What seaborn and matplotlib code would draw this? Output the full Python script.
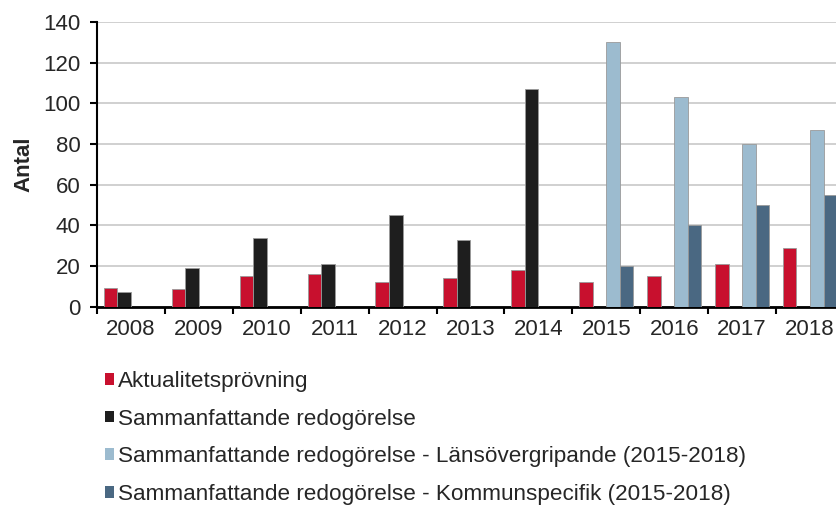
import matplotlib
matplotlib.use("Agg")
import matplotlib.pyplot as plt
from matplotlib.patches import Patch
import seaborn as sns
import numpy as np
import pandas as pd

# data
years = ["2008", "2009", "2010", "2011", "2012", "2013", "2014", "2015", "2016", "2017", "2018"]
aktualitet = [9, 8.5, 15, 16, 12, 14, 18, 12, 15, 21, 29]
sammanf = [7, 19, 34, 21, 45, 33, 107, np.nan, np.nan, np.nan, np.nan]
lans = [np.nan] * 7 + [130, 103, 80, 87]
kommun = [np.nan] * 7 + [20, 40, 50, 55]

series = [
    "Aktualitetsprövning",
    "Sammanfattande redogörelse",
    "Sammanfattande redogörelse - Länsövergripande (2015-2018)",
    "Sammanfattande redogörelse - Kommunspecifik (2015-2018)",
]
colors = ["#C8102E", "#1E1E1E", "#9CBBCF", "#4A6882"]

rows = []
for name, vals in zip(series, [aktualitet, sammanf, lans, kommun]):
    for y, v in zip(years, vals):
        rows.append({"year": y, "serie": name, "antal": v})
df = pd.DataFrame(rows)

sns.set_theme(style="white")
plt.rcParams["font.family"] = ["Liberation Sans", "DejaVu Sans"]

fig = plt.figure(figsize=(8.36, 5.09), dpi=100)
ax = fig.add_axes([97 / 836, 202.3 / 509, 747 / 836, 284.7 / 509])

sns.barplot(data=df, x="year", y="antal", hue="serie", hue_order=series,
            palette=colors, saturation=1, width=0.8, gap=0, legend=False,
            edgecolor="#9a9a9a", linewidth=0.6, ax=ax, zorder=3)

ax.set_xlim(-0.5, len(years) - 0.5)
ax.set_ylim(0, 140)
ax.set_yticks(range(0, 141, 20))
ax.yaxis.grid(True, color="#c8c8c8", linewidth=1.2, zorder=0)
ax.set_axisbelow(True)

for s in ["top", "right"]:
    ax.spines[s].set_visible(False)
ax.spines["left"].set_color("black")
ax.spines["left"].set_linewidth(1.5)
ax.spines["bottom"].set_color("black")
ax.spines["bottom"].set_linewidth(2)

# tick marks between categories, labels in the middle
ax.set_xticks(np.arange(len(years)))
ax.set_xticklabels(years)
ax.set_xticks(np.arange(-0.5, len(years), 1), minor=True)
ax.tick_params(axis="x", which="major", length=0, pad=9, labelsize=16)
ax.tick_params(axis="x", which="minor", length=5, width=1.5, color="black",
               direction="out", bottom=True)
ax.tick_params(axis="y", length=5, width=1.5, color="black", direction="out",
               left=True, pad=7, labelsize=16)

ax.set_xlabel("")
ax.set_ylabel("Antal", fontsize=16, fontweight="bold")
ax.yaxis.set_label_coords(-0.084, 0.5)

handles = [Patch(facecolor=c, edgecolor="none") for c in colors]
fig.legend(handles, series, loc="upper left", bbox_to_anchor=(105 / 836, 1 - 371 / 509),
           frameon=False, fontsize=16.2, handlelength=0.42, handleheight=0.42,
           handletextpad=0.15, labelspacing=0.74, borderpad=0, borderaxespad=0)

fig.savefig("out.png", dpi=100)
